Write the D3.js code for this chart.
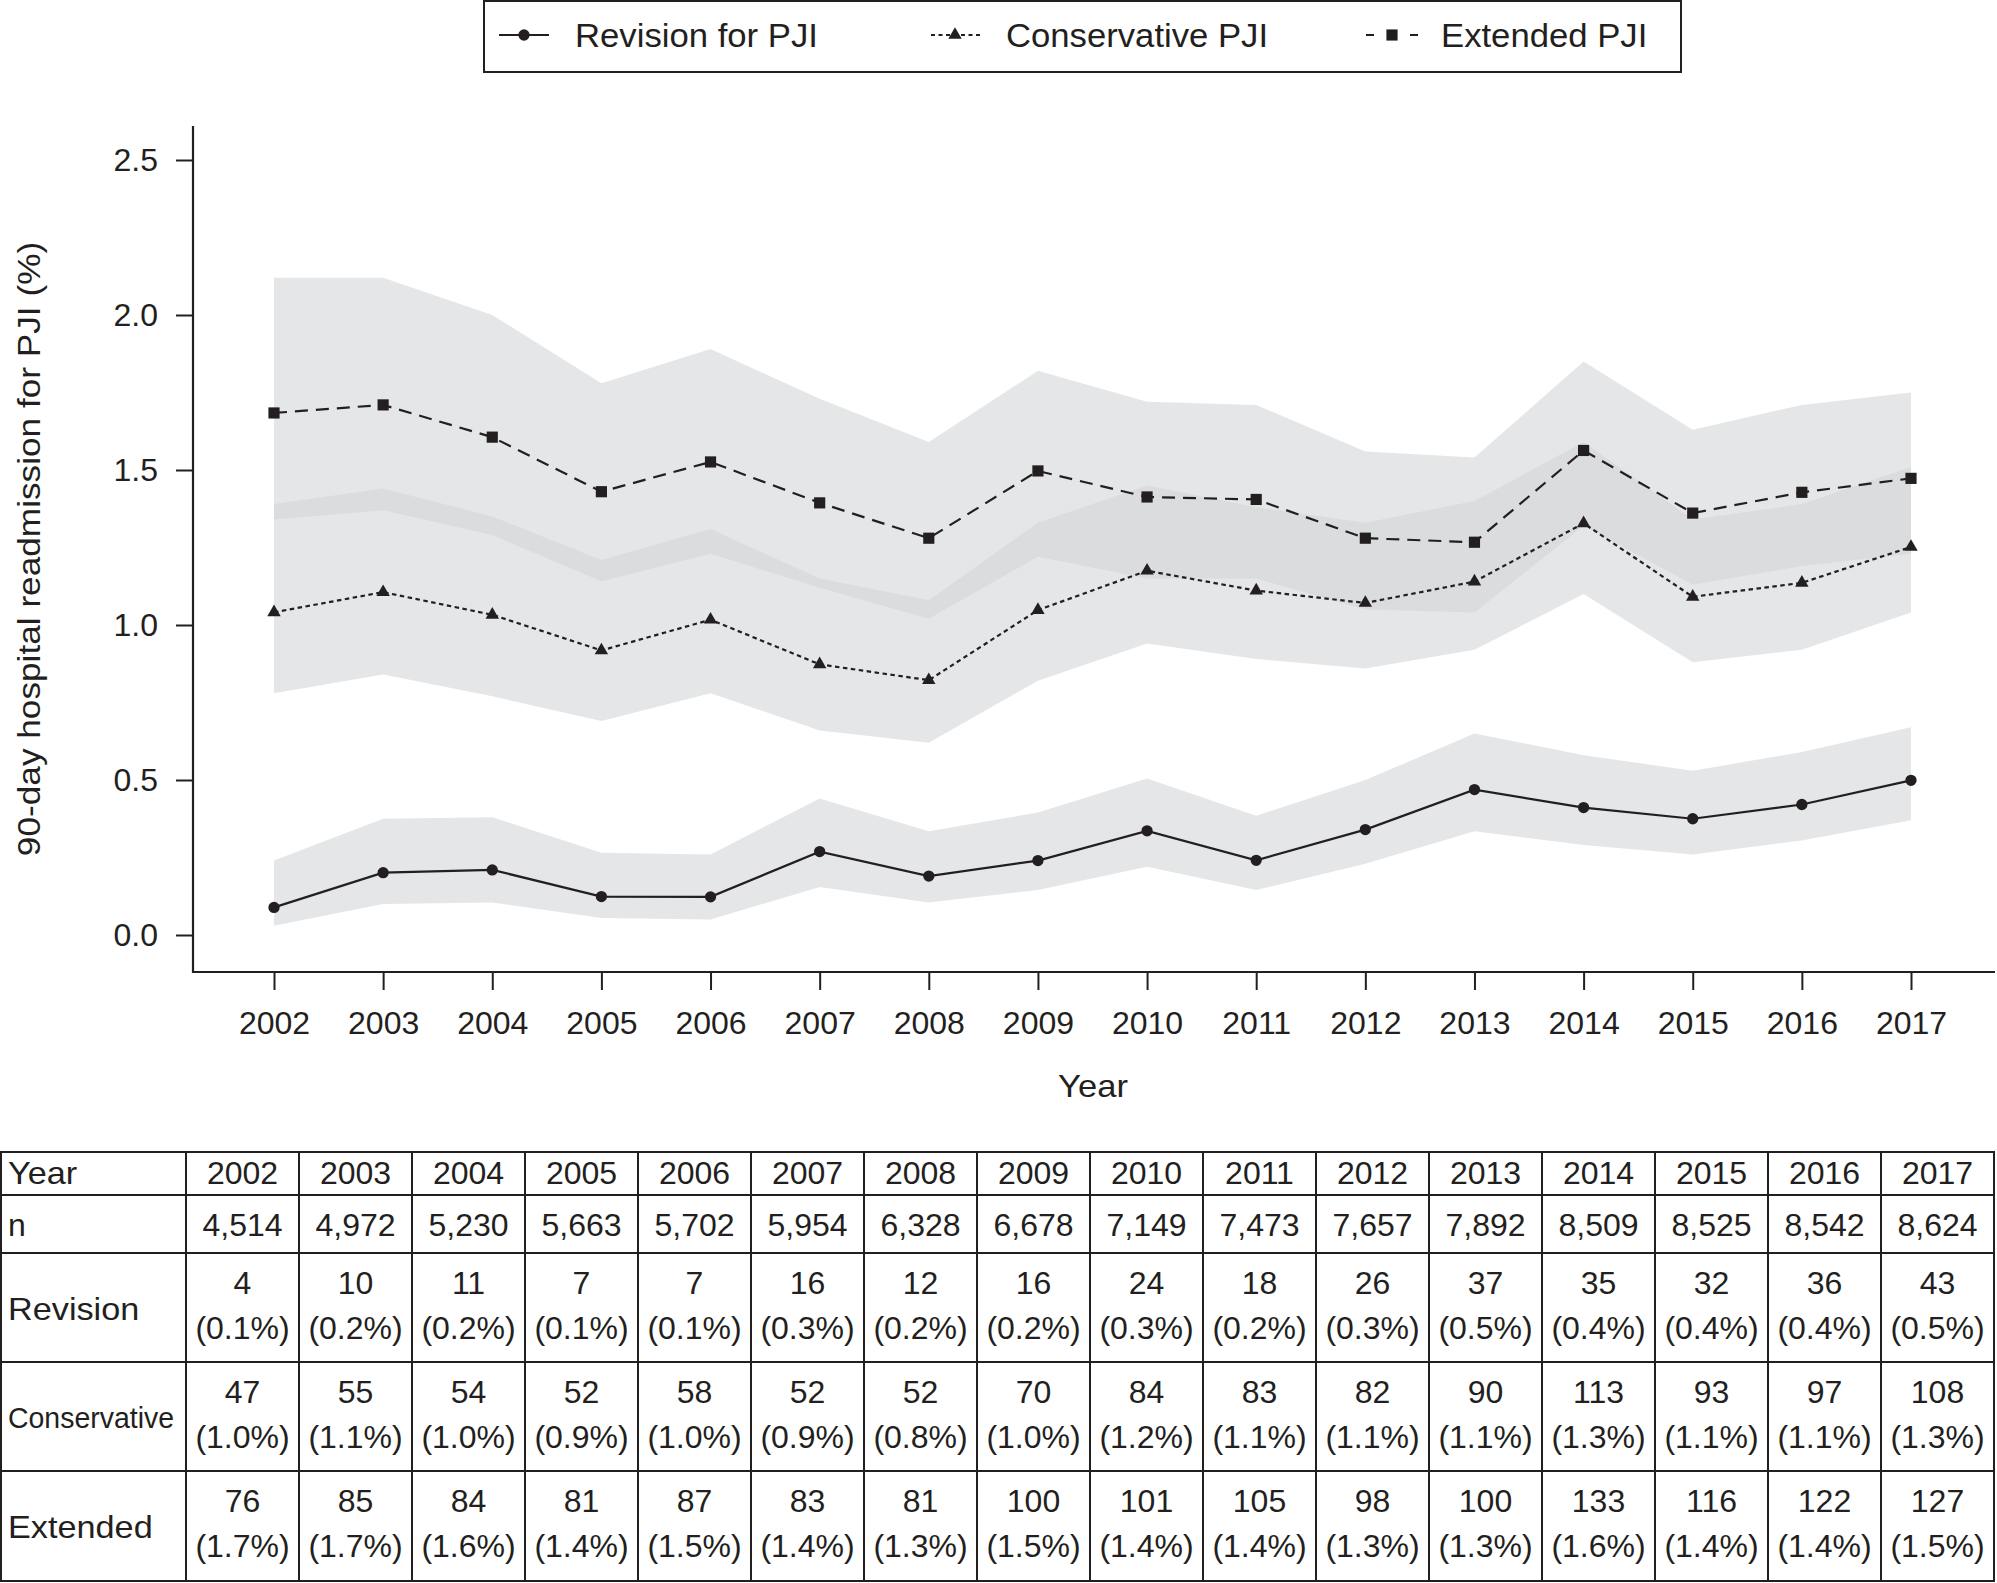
<!DOCTYPE html>
<html><head><meta charset="utf-8">
<script src="https://cdn.jsdelivr.net/npm/d3@7"></script>
<style>
body{margin:0;background:#fff}
svg{display:block}
text{font-family:"Liberation Sans",Arial,Helvetica,sans-serif;fill:#231f20}
</style>
</head><body>
<svg id="c" width="1997" height="1583"></svg>
<script>
// ---------- data ----------
const years = [2002,2003,2004,2005,2006,2007,2008,2009,2010,2011,2012,2013,2014,2015,2016,2017];
const yTicks = [0, 0.5, 1.0, 1.5, 2.0, 2.5];

// plotted rates (%)
const revision     = [0.089,0.201,0.210,0.124,0.123,0.269,0.190,0.240,0.336,0.241,0.340,0.469,0.411,0.375,0.421,0.499];
const conservative = [1.041,1.106,1.033,0.918,1.017,0.873,0.822,1.048,1.175,1.111,1.071,1.140,1.328,1.091,1.136,1.252];
const extended     = [1.684,1.710,1.606,1.430,1.526,1.394,1.280,1.497,1.413,1.405,1.280,1.267,1.563,1.361,1.428,1.473];

// confidence bands (%)
const revLower  = [0.03,0.10,0.105,0.055,0.05,0.155,0.105,0.145,0.22,0.145,0.23,0.335,0.29,0.26,0.305,0.37];
const revUpper  = [0.24,0.375,0.38,0.265,0.26,0.44,0.335,0.395,0.505,0.385,0.50,0.65,0.58,0.53,0.59,0.67];
const consLower = [0.78,0.84,0.77,0.69,0.78,0.66,0.62,0.82,0.94,0.89,0.86,0.92,1.10,0.88,0.92,1.04];
const consUpper = [1.39,1.44,1.35,1.21,1.31,1.15,1.08,1.33,1.45,1.38,1.33,1.40,1.59,1.34,1.39,1.51];
const extLower  = [1.34,1.37,1.29,1.14,1.23,1.12,1.02,1.22,1.15,1.15,1.05,1.04,1.32,1.13,1.19,1.23];
const extUpper  = [2.12,2.12,2.00,1.78,1.89,1.73,1.59,1.82,1.72,1.71,1.56,1.54,1.85,1.63,1.71,1.75];

// table
const nTotal      = [4514,4972,5230,5663,5702,5954,6328,6678,7149,7473,7657,7892,8509,8525,8542,8624];
const revCount    = [4,10,11,7,7,16,12,16,24,18,26,37,35,32,36,43];
const revPct      = [0.1,0.2,0.2,0.1,0.1,0.3,0.2,0.2,0.3,0.2,0.3,0.5,0.4,0.4,0.4,0.5];
const consCount   = [47,55,54,52,58,52,52,70,84,83,82,90,113,93,97,108];
const consPct     = [1.0,1.1,1.0,0.9,1.0,0.9,0.8,1.0,1.2,1.1,1.1,1.1,1.3,1.1,1.1,1.3];
const extCount    = [76,85,84,81,87,83,81,100,101,105,98,100,133,116,122,127];
const extPct      = [1.7,1.7,1.6,1.4,1.5,1.4,1.3,1.5,1.4,1.4,1.3,1.3,1.6,1.4,1.4,1.5];

const legendLabels = ["Revision for PJI","Conservative PJI","Extended PJI"];
const rowLabels = ["Year","n","Revision","Conservative","Extended"];

// ---------- drawing ----------
const ink = "#231f20";
const FONT = '"Liberation Sans",Arial,Helvetica,sans-serif';
const svg = d3.select("#c");
svg.append("rect").attr("width",1997).attr("height",1583).attr("fill","#fff");

function stretch(sel, f){
  sel.each(function(){
    const L = this.getComputedTextLength();
    this.setAttribute("textLength", (L*f).toFixed(1));
    this.setAttribute("lengthAdjust","spacingAndGlyphs");
  });
}

const x = d3.scaleLinear().domain([2002,2017]).range([274,1911]);
const y = d3.scaleLinear().domain([0,2.5]).range([935,160]);

const mk = (vals, lo, hi) => years.map((yr,i)=>({year:yr, v:vals[i], lo:lo[i], hi:hi[i]}));
const series = [
  {name:"ext",  data:mk(extended,extLower,extUpper),         dash:"13,8",  sym:d3.symbolSquare,   size:125, sw:2.2},
  {name:"cons", data:mk(conservative,consLower,consUpper),   dash:"4.5,3.5", sym:d3.symbolTriangle, size:78,  sw:2.2},
  {name:"rev",  data:mk(revision,revLower,revUpper),         dash:null,    sym:d3.symbolCircle,   size:100, sw:2.2}
];

const area = d3.area().x(d=>x(d.year)).y0(d=>y(d.lo)).y1(d=>y(d.hi));
const gBands = svg.append("g");
series.forEach(s=>{
  gBands.append("path").datum(s.data).attr("d",area)
    .attr("fill","rgb(212,213,215)").attr("fill-opacity",0.6);
});

const line = d3.line().x(d=>x(d.year)).y(d=>y(d.v));
series.forEach(s=>{
  const p = svg.append("path").datum(s.data).attr("d",line)
    .attr("fill","none").attr("stroke",ink).attr("stroke-width",s.sw);
  if(s.dash) p.attr("stroke-dasharray",s.dash);
  svg.append("g").selectAll("path").data(s.data).join("path")
    .attr("transform",d=>`translate(${x(d.year)},${y(d.v)})`)
    .attr("d",d3.symbol().type(s.sym).size(s.size))
    .attr("fill",ink);
});

// axes
const gx = svg.append("g").attr("transform","translate(0,972)")
  .call(d3.axisBottom(x).tickValues(years).tickFormat(d3.format("d")).tickSize(18).tickPadding(21).tickSizeOuter(0));
gx.select(".domain").remove();
gx.attr("font-family",FONT).attr("font-size",32);
gx.selectAll("line").attr("stroke",ink).attr("stroke-width",2);
gx.selectAll("text").attr("fill",ink);

const gy = svg.append("g").attr("transform","translate(193,0)")
  .call(d3.axisLeft(y).tickValues(yTicks).tickFormat(d3.format(".1f")).tickSize(17).tickPadding(18).tickSizeOuter(0));
gy.select(".domain").remove();
gy.attr("font-family",FONT).attr("font-size",32);
gy.selectAll("line").attr("stroke",ink).attr("stroke-width",2);
gy.selectAll("text").attr("fill",ink);

svg.append("line").attr("x1",193).attr("x2",193).attr("y1",126).attr("y2",973)
  .attr("stroke",ink).attr("stroke-width",2.2);
svg.append("line").attr("x1",192).attr("x2",1995).attr("y1",972).attr("y2",972)
  .attr("stroke",ink).attr("stroke-width",2.2);

const yt = svg.append("text").attr("transform","translate(40,549) rotate(-90)")
  .attr("text-anchor","middle").attr("font-size",32).text("90-day hospital readmission for PJI (%)");
stretch(yt,1.10);
const xt = svg.append("text").attr("x",1093).attr("y",1097).attr("text-anchor","middle")
  .attr("font-size",32).text("Year");
stretch(xt,1.08);

// legend
const lg = svg.append("g");
lg.append("rect").attr("x",484).attr("y",1).attr("width",1197).attr("height",71)
  .attr("fill","#fff").attr("stroke",ink).attr("stroke-width",2);
const legItems = [
  {label:legendLabels[0], x0:499, x1:549, cx:524, tx:575, dash:null,      sym:d3.symbolCircle,  size:100},
  {label:legendLabels[1], x0:931, x1:981, cx:955, tx:1006, dash:"4,3.5",  sym:d3.symbolTriangle, size:78},
  {label:legendLabels[2], x0:1366,x1:1419,cx:1392, tx:1441, dash:"8,36", sym:d3.symbolSquare, size:125}
];
const ly = 35;
legItems.forEach(it=>{
  const l = lg.append("line").attr("x1",it.x0).attr("x2",it.x1).attr("y1",ly).attr("y2",ly)
    .attr("stroke",ink).attr("stroke-width",2.2);
  if(it.dash) l.attr("stroke-dasharray",it.dash);
  lg.append("path").attr("transform",`translate(${it.cx},${ly})`)
    .attr("d",d3.symbol().type(it.sym).size(it.size)).attr("fill",ink);
  const t = lg.append("text").attr("x",it.tx).attr("y",47).attr("font-size",34).text(it.label);
  stretch(t,1.02);
});

// table
const rowEdges = [1152,1195,1253,1362,1471,1581];
const col = d3.scaleBand().domain(years).range([186,1994]);
const tg = svg.append("g");
const tLine = (x1,y1,x2,y2)=>tg.append("line").attr("x1",x1).attr("y1",y1).attr("x2",x2).attr("y2",y2)
  .attr("stroke",ink).attr("stroke-width",2);
rowEdges.forEach(r=>tLine(0,r,1995,r));
tLine(1,rowEdges[0]-1,1,rowEdges[5]+1);
years.forEach(yr=>tLine(col(yr),rowEdges[0]-1,col(yr),rowEdges[5]+1));
tLine(1994,rowEdges[0]-1,1994,rowEdges[5]+1);

const FS = 32;
// row labels
const labelBase = [1184, 1236, rowEdges[2]+67, rowEdges[3]+66, rowEdges[4]+67];
rowLabels.forEach((lab,i)=>{
  const t = tg.append("text").attr("x",8).attr("y",labelBase[i]).attr("font-size",FS).text(lab);
  if(lab==="Conservative"){ t.attr("font-size",30).attr("textLength",166).attr("lengthAdjust","spacingAndGlyphs"); }
  else if(lab!=="n") stretch(t,1.07);
});
const cx = yr => col(yr)+col.bandwidth()/2;
const fmtN = d3.format(",");
const cellText = (xx,yy,s)=>{
  tg.append("text").attr("x",xx).attr("y",yy).attr("text-anchor","middle").attr("font-size",FS).text(s);
};
years.forEach((yr,i)=>{
  cellText(cx(yr),1184,String(yr));
  cellText(cx(yr),1236,fmtN(nTotal[i]));
  const rows = [[revCount,revPct],[consCount,consPct],[extCount,extPct]];
  rows.forEach((r,k)=>{
    const top = rowEdges[2+k];
    cellText(cx(yr),top+41,String(r[0][i]));
    cellText(cx(yr),top+86,"("+r[1][i].toFixed(1)+"%)");
  });
});
</script>
</body></html>
